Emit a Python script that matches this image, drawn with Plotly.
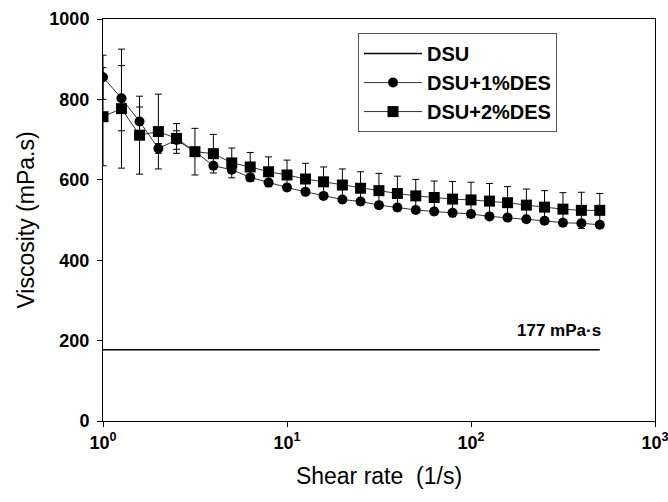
import plotly.graph_objects as go

shear_rate = [1.00, 1.26, 1.58, 2.00, 2.51, 3.16, 3.98, 5.01, 6.31, 7.94,
              10.0, 12.6, 15.8, 20.0, 25.1, 31.6, 39.8, 50.1, 63.1, 79.4,
              100, 126, 158, 200, 251, 316, 398, 501]

dsu = [177] * 28

des1 = [855, 803, 745, 678, 699, 670, 635, 625, 606, 593,
        581, 570, 560, 551, 546, 537, 531, 525, 521, 518,
        515, 509, 506, 502, 498, 493, 492, 488]
des1_err = [55, 81, 36, 12, 23, 8, 8, 8, 8, 8,
            8, 8, 8, 8, 8, 8, 8, 8, 8, 8,
            8, 8, 8, 8, 8, 8, 8, 8]

des2 = [757, 777, 711, 720, 703, 670, 665, 642, 632, 620,
        612, 602, 595, 587, 579, 573, 566, 560, 556, 552,
        550, 547, 543, 537, 532, 527, 524, 524]
des2_err = [122, 148, 97, 93, 37, 58, 48, 37, 36, 37,
            37, 39, 37, 40, 41, 43, 43, 41, 41, 44,
            44, 44, 40, 40, 41, 41, 45, 42]

x_tickvals = [1, 10, 100, 1000]
x_ticktext = ["10<sup>0</sup>", "10<sup>1</sup>", "10<sup>2</sup>", "10<sup>3</sup>"]
y_tickvals = [0, 200, 400, 600, 800, 1000]

FONT = "Arial, Liberation Sans, sans-serif"

fig = go.Figure()

fig.add_trace(go.Scatter(
    x=shear_rate, y=dsu, mode="lines", name="DSU",
    line=dict(color="black", width=1.5), legendgroup="a"))

fig.add_trace(go.Scatter(
    x=shear_rate, y=des1, mode="lines+markers", name="DSU+1%DES",
    line=dict(color="#333333", width=1),
    marker=dict(symbol="circle", size=10, color="black"),
    error_y=dict(type="data", array=des1_err, color="black", thickness=1, width=3.5),
    legendgroup="b"))

fig.add_trace(go.Scatter(
    x=shear_rate, y=des2, mode="lines+markers", name="DSU+2%DES",
    line=dict(color="#333333", width=1),
    marker=dict(symbol="square", size=11, color="black"),
    error_y=dict(type="data", array=des2_err, color="black", thickness=1, width=3.5),
    legendgroup="c"))

fig.add_annotation(x=2.48, y=177, xref="x", yref="y", text="<b>177 mPa·s</b>",
                   showarrow=False, yshift=19,
                   font=dict(family=FONT, size=17, color="black"))

fig.update_layout(
    width=668, height=502,
    margin=dict(l=103, r=13, t=19, b=81),
    paper_bgcolor="white", plot_bgcolor="white",
    font=dict(family=FONT, color="black"),
    showlegend=True,
    legend=dict(x=0.462, y=0.965, xanchor="left", yanchor="top",
                bordercolor="#555555", borderwidth=1, bgcolor="white",
                font=dict(size=20, family=FONT, color="black", weight="bold"),
                tracegroupgap=0, itemwidth=58),
    xaxis=dict(type="log", range=[0, 3], tickvals=x_tickvals, ticktext=x_ticktext,
               ticks="outside", ticklen=5, tickcolor="black", showgrid=False,
               showline=True, linecolor="black", linewidth=1, mirror=True, zeroline=False,
               automargin=False, ticklabeloverflow="allow",
               tickfont=dict(size=18, weight="bold"),
               title=dict(text="Shear rate  (1/s)", font=dict(size=23), standoff=16)),
    yaxis=dict(range=[0, 1000], tickvals=y_tickvals,
               ticks="outside", ticklen=5, tickcolor="black", showgrid=False,
               showline=True, linecolor="black", linewidth=1, mirror=True, zeroline=False,
               automargin=False, ticklabelstandoff=4, ticklabeloverflow="allow",
               tickfont=dict(size=18, weight="bold"),
               title=dict(text="Viscosity (mPa.s)", font=dict(size=23), standoff=8)),
)

fig.write_html("out.html")
